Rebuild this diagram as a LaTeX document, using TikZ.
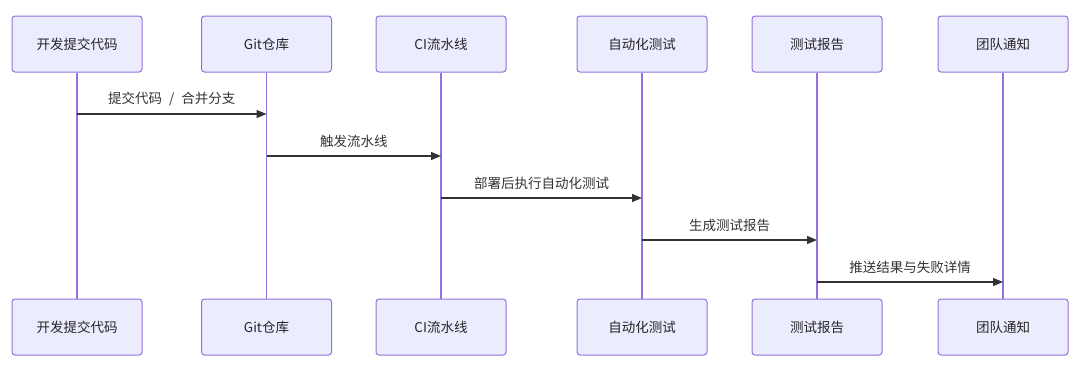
\documentclass[tikz,border=0pt]{standalone}
\usepackage{fontspec}
\setmainfont{Noto Sans CJK SC}
\usetikzlibrary{arrows.meta,positioning}
\definecolor{actorfill}{HTML}{ECECFF}
\definecolor{actorline}{HTML}{9370DB}
\definecolor{msgline}{HTML}{333333}

\begin{document}
\begin{tikzpicture}[
    x=1pt, y=-1pt,
    actor/.style={rectangle, draw=actorline, fill=actorfill, line width=1pt, rounded corners=3pt, minimum width=130pt, minimum height=56pt, font=\fontsize{13.5}{16}\selectfont, text=black!85},
    lifeline/.style={draw=actorline, line width=1.8pt},
    msg/.style={draw=msgline, line width=1.3pt, -{Triangle[length=10pt,width=8pt]}},
    msglabel/.style={font=\fontsize{13.5}{16}\selectfont, text=msgline}
]
\useasboundingbox (0,0) rectangle (1080,375);

% Top actors
\node[actor] (dev) at (77,44) {开发提交代码};
\node[actor] (git) at (266.5,44) {Git仓库};
\node[actor] (ci) at (441,44) {CI流水线};
\node[actor] (test) at (642,44) {自动化测试};
\node[actor] (report) at (817,44) {测试报告};
\node[actor] (notify) at (1003,44) {团队通知};

% Bottom actors
\node[actor] (devB) at (77,327) {开发提交代码};
\node[actor] (gitB) at (266.5,327) {Git仓库};
\node[actor] (ciB) at (441,327) {CI流水线};
\node[actor] (testB) at (642,327) {自动化测试};
\node[actor] (reportB) at (817,327) {测试报告};
\node[actor] (notifyB) at (1003,327) {团队通知};

% Lifelines
\draw[lifeline] (dev) -- (devB);
\draw[lifeline] (git) -- (gitB);
\draw[lifeline] (ci) -- (ciB);
\draw[lifeline] (test) -- (testB);
\draw[lifeline] (report) -- (reportB);
\draw[lifeline] (notify) -- (notifyB);

% Message rows
\coordinate (r1) at (0,114);
\coordinate (r2) at (0,156);
\coordinate (r3) at (0,198);
\coordinate (r4) at (0,240);
\coordinate (r5) at (0,282);

% Messages
\draw[msg] (dev |- r1) -- (git |- r1) node[midway, above=4pt, msglabel] {提交代码\hspace{7pt}/\hspace{7pt}合并分支};
\draw[msg] (git |- r2) -- (ci |- r2) node[midway, above=4pt, msglabel] {触发流水线};
\draw[msg] (ci |- r3) -- (test |- r3) node[midway, above=4pt, msglabel] {部署后执行自动化测试};
\draw[msg] (test |- r4) -- (report |- r4) node[midway, above=4pt, msglabel] {生成测试报告};
\draw[msg] (report |- r5) -- (notify |- r5) node[midway, above=4pt, msglabel] {推送结果与失败详情};

\end{tikzpicture}
\end{document}
